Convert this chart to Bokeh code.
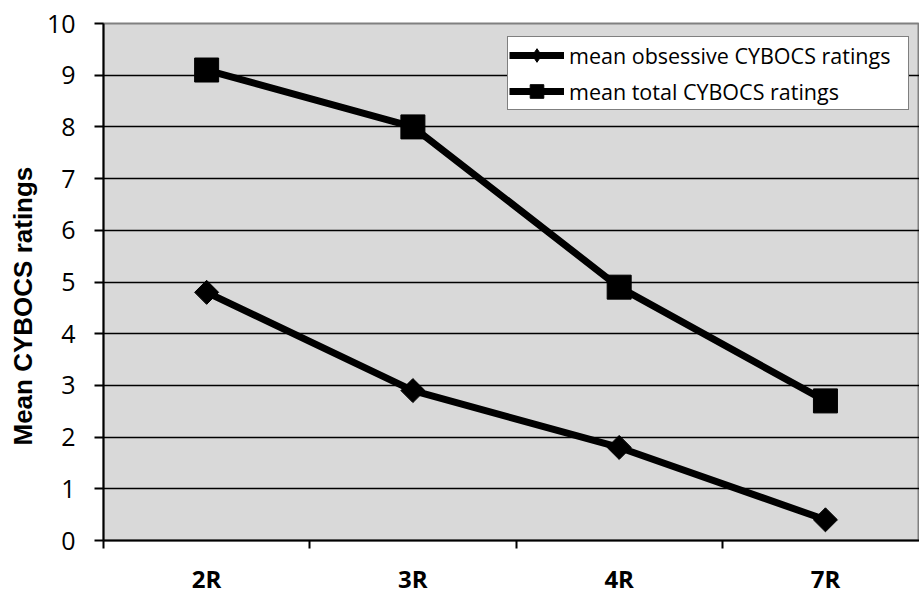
import numpy as np
from bokeh.plotting import figure
from bokeh.models import FixedTicker, Legend, LegendItem, ColumnDataSource, Title
from bokeh.embed import file_html
from bokeh.resources import INLINE

# Rating sessions and mean CYBOCS scores
sessions = ["2R", "3R", "4R", "7R"]
obsessive_ratings = [4.8, 2.9, 1.8, 0.4]
total_ratings = [9.1, 8.0, 4.9, 2.7]
y_ticks = [0, 1, 2, 3, 4, 5, 6, 7, 8, 9, 10]

# each session occupies one unit slot; points sit in the middle of the slot
x_pos = [i + 0.5 for i in range(len(sessions))]
boundaries = [float(i) for i in range(len(sessions))]

src = ColumnDataSource(dict(x=x_pos, obs=obsessive_ratings, tot=total_ratings))

p = figure(width=919, height=597, output_backend="svg", toolbar_location=None,
           x_range=(0, 3.956), y_range=(0, 10),
           min_border_left=102, min_border_right=0,
           min_border_top=23, min_border_bottom=57)

p.background_fill_color = "#D9D9D9"
p.border_fill_color = "white"
p.outline_line_color = "#808080"
p.outline_line_width = 2

# x axis: category names centred, tick marks on the slot boundaries
xa = p.xaxis[0]
xa.ticker = FixedTicker(ticks=x_pos, minor_ticks=boundaries)
xa.major_label_overrides = {x: s for x, s in zip(x_pos, sessions)}
xa.major_tick_line_color = None
xa.major_tick_out = 0
xa.major_tick_in = 0
xa.minor_tick_line_color = "black"
xa.minor_tick_line_width = 2
xa.minor_tick_out = 8
xa.minor_tick_in = 0
xa.axis_line_color = "black"
xa.axis_line_width = 2
xa.major_label_text_font = "Open Sans"
xa.major_label_text_font_style = "bold"
xa.major_label_text_font_size = "24px"
xa.major_label_text_color = "black"
xa.major_label_standoff = 13

# y axis
ya = p.yaxis[0]
ya.ticker = FixedTicker(ticks=y_ticks)
ya.minor_tick_line_color = None
ya.major_tick_line_color = "black"
ya.major_tick_line_width = 2
ya.major_tick_out = 9
ya.major_tick_in = 0
ya.axis_line_color = "black"
ya.axis_line_width = 2
ya.major_label_text_font = "Open Sans"
ya.major_label_text_font_size = "25px"
ya.major_label_text_color = "black"
ya.major_label_standoff = 19

# y axis title, starting a little above the bottom of the frame
ytitle = Title(text="Mean CYBOCS ratings", align="left", offset=95,
               text_font="Liberation Sans", text_font_style="bold",
               text_font_size="26px", text_color="black", standoff=11)
p.add_layout(ytitle, "left")

p.xgrid.grid_line_color = None
p.ygrid.grid_line_color = "black"
p.ygrid.grid_line_width = 1.5

# series lines and markers
l_obs = p.line("x", "obs", source=src, line_color="black", line_width=7)
# small diamonds under the rotated squares; they supply the legend swatch,
# since the legend does not apply marker angles
key_obs = p.scatter("x", "obs", source=src, marker="diamond", size=12,
                    fill_color="black", line_color="black")
m_obs = p.scatter("x", "obs", source=src, marker="square", angle=np.pi / 4,
                  size=17, fill_color="black", line_color="black")
l_tot = p.line("x", "tot", source=src, line_color="black", line_width=7)
m_tot = p.scatter("x", "tot", source=src, marker="square", size=24,
                  fill_color="black", line_color="black")

legend = Legend(items=[
    LegendItem(label="mean obsessive CYBOCS ratings", renderers=[l_obs, key_obs]),
    LegendItem(label="mean total CYBOCS ratings", renderers=[l_tot, m_tot]),
], location=(404, 430))
legend.label_text_font = "Open Sans"
legend.label_text_font_size = "21.5px"
legend.label_text_color = "black"
legend.glyph_width = 55
legend.glyph_height = 34
legend.label_height = 34
legend.label_width = 338
legend.label_standoff = 5
legend.spacing = 2
legend.padding = 1
legend.margin = 0
legend.border_line_color = "black"
legend.border_line_width = 1.5
legend.background_fill_color = "white"
legend.background_fill_alpha = 1
p.add_layout(legend, "center")

open("out.html", "w").write(file_html(p, INLINE))
